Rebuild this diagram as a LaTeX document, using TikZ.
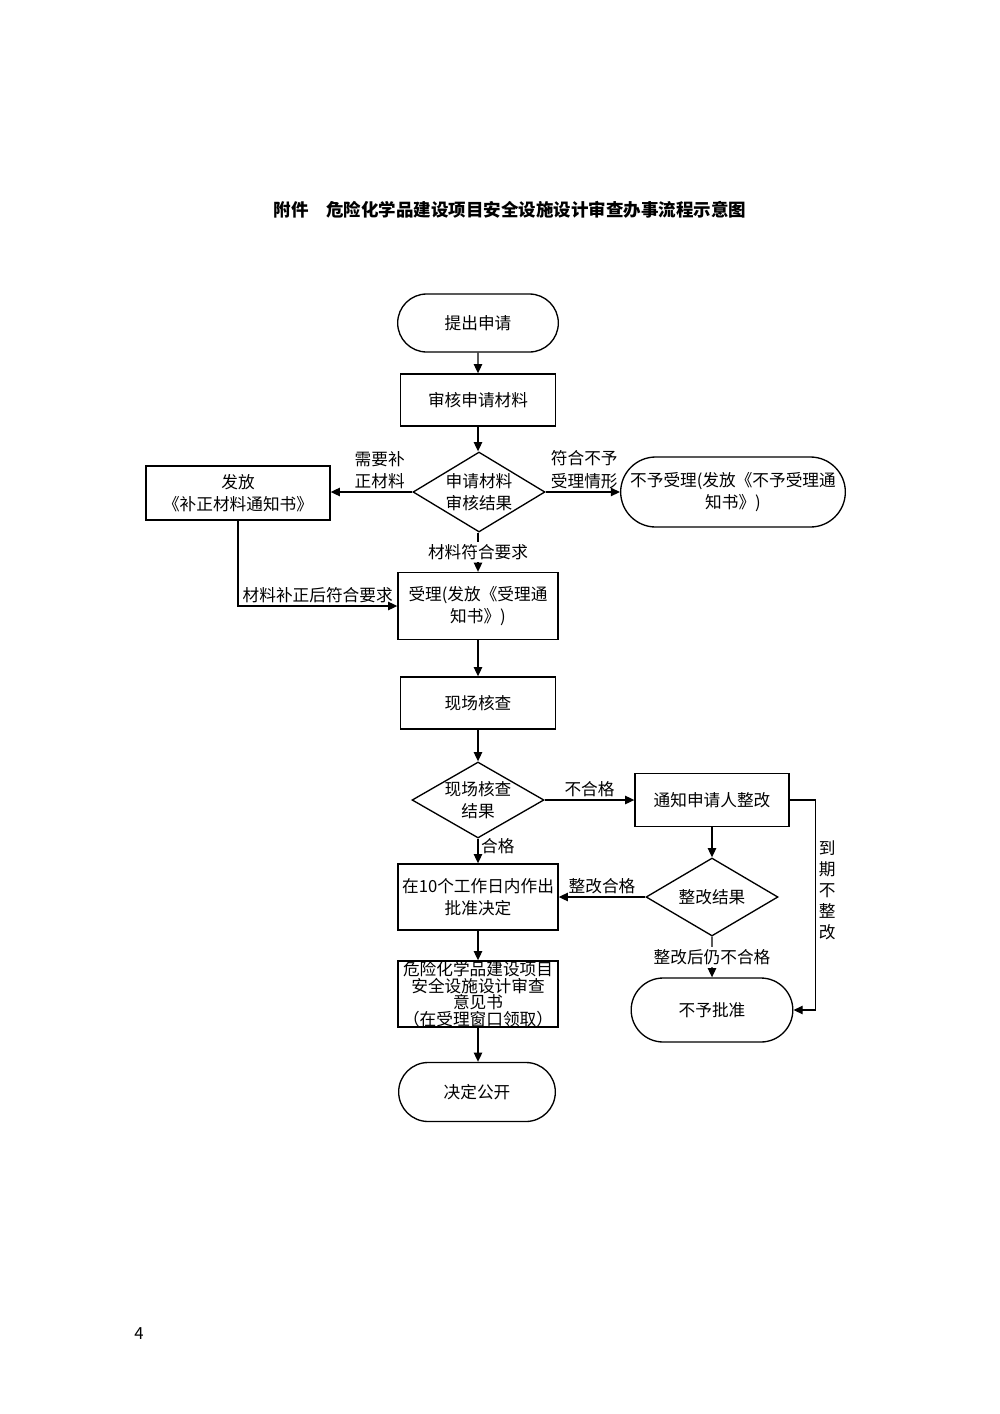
\documentclass[tikz,border=0pt]{standalone}
\usepackage{fontspec}
\setmainfont{Noto Sans CJK SC}
\usetikzlibrary{shapes.geometric, shapes.misc, arrows.meta}
\newcommand\tightlines{\fontsize{10}{9.9}\selectfont\lineskiplimit=-3pt\relax}
\tikzset{
    flowline/.style = {line width = 0.8pt, -{Triangle[length = 5.5pt, width = 5pt]}},
    procbox/.style = {draw, line width = 0.8pt, align = center, inner sep = 1pt, font = \fontsize{10}{13.5}\selectfont},
    termbox/.style = {procbox, rounded rectangle},
    decbox/.style = {procbox, diamond, inner sep = 0pt},
    flowlabel/.style = {align = center, inner sep = 1.5pt, font = \fontsize{10}{13.5}\selectfont},
}
\begin{document}
\begin{tikzpicture}[x = 0.6pt, y = -0.6pt]
            \useasboundingbox (0, 0) rectangle (1000, 1414);
            \node[font = \fontsize{10.5}{12}\selectfont\bfseries] (title) at (510, 210) {附件\hspace{1em}危险化学品建设项目安全设施设计审查办事流程示意图};
            \node[termbox, minimum width = 98.4pt, minimum height = 34.8pt] (apply) at (478, 323) {提出申请};
            \node[procbox, minimum width = 93pt, minimum height = 31.2pt] (check) at (478, 400) {审核申请材料};
            \node[decbox, minimum width = 79.2pt, minimum height = 48pt, label = {[flowlabel]center:{申请材料\\审核结果}}] (result1) at (479, 492) {};
            \node[procbox, minimum width = 110.4pt, minimum height = 32.4pt] (notify1) at (238, 493) {发放\\《补正材料通知书》};
            \node[termbox, minimum width = 136.8pt, minimum height = 42pt] (reject) at (733, 492) {不予受理(发放《不予受理通\\知书》)};
            \node[procbox, minimum width = 96pt, minimum height = 40.2pt] (accept) at (478, 606) {受理(发放《受理通\\知书》)};
            \node[procbox, minimum width = 93pt, minimum height = 31.2pt] (site) at (478, 703) {现场核查};
            \node[decbox, minimum width = 79.2pt, minimum height = 45.6pt, label = {[flowlabel]center:{现场核查\\结果}}] (result2) at (478, 800) {};
            \node[procbox, minimum width = 92.4pt, minimum height = 31.8pt] (notice) at (712, 800) {通知申请人整改};
            \node[procbox, minimum width = 96pt, minimum height = 39.6pt] (approve) at (478, 897) {在10个工作日内作出\\批准决定};
            \node[decbox, minimum width = 79.2pt, minimum height = 46.8pt, label = {[flowlabel]center:整改结果}] (result3) at (712, 897) {};
            \node[termbox, minimum width = 99pt, minimum height = 38.4pt] (deny) at (712, 1010) {不予批准};
            \node[procbox, minimum width = 96pt, minimum height = 39.6pt, inner sep = 0pt, font = \tightlines] (opinion) at (478, 994) {危险化学品建设项目\\安全设施设计审查\\意见书\\（在受理窗口领取）};
            \node[termbox, minimum width = 96pt, minimum height = 35.4pt] (public) at (477, 1092) {决定公开};
            \node[font = \fontsize{10}{12}\selectfont] (pageno) at (139, 1334) {4};

            \draw[flowline] (apply) -- (check);
            \draw[flowline] (check.south) -- (check.south |- result1.north);
            \draw[flowline] (result1.west) -- node[flowlabel, above, pos = 0.4] {需要补\\正材料} (result1.west -| notify1.east);
            \draw[flowline] (result1.east) -- node[flowlabel, above, pos = 0.52] {符合不予\\受理情形} (result1.east -| reject.west);
            \draw[flowline] (accept.north |- result1.south) -- node[flowlabel, fill = white] {材料符合要求} (accept.north);
            \draw[flowline] (notify1.south) |- node[flowlabel, above, pos = 0.75] {材料补正后符合要求} (accept.west);
            \draw[flowline] (accept) -- (site);
            \draw[flowline] (site) -- (result2);
            \draw[flowline] (result2.east) -- node[flowlabel, above] {不合格} (result2.east -| notice.west);
            \draw[flowline] (result2) -- node[flowlabel, right, pos = 0.3] {合格} (approve);
            \draw[flowline] (notice) -- (result3);
            \draw[flowline] (result3.west) -- node[flowlabel, above] {整改合格} (result3.west -| approve.east);
            \draw[flowline] (result3) -- node[flowlabel, fill = white] {整改后仍不合格} (deny);
            \draw[flowline] (notice.east) -- ++(26, 0) coordinate (turn) -- node[flowlabel, right, pos = 0.43, font = \fontsize{10}{12.6}\selectfont] {到\\期\\不\\整\\改} (turn |- deny.east) -- (deny.east);
            \draw[flowline] (approve) -- (opinion);
            \draw[flowline] (opinion.south) -- (opinion.south |- public.north);
        \end{tikzpicture}
\end{document}
